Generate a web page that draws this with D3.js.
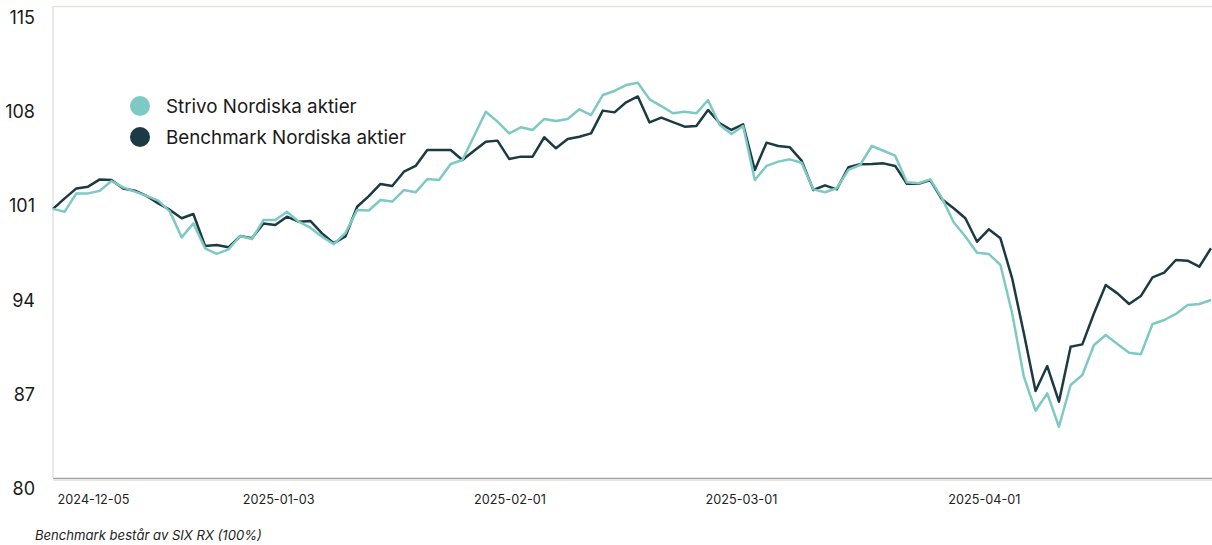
<!DOCTYPE html>
<html>
<head>
<meta charset="utf-8">
<script src="https://cdn.jsdelivr.net/npm/d3@7"></script>
<style>
  body { margin: 0; background: #fff; }
  svg { display: block; }
</style>
</head>
<body>
<svg id="chart"></svg>
<script>
// series values (indexed, start = 100), one per trading day
const strivo = [
  100.0, 99.79, 101.15, 101.15, 101.35, 102.07, 101.60, 101.28, 100.96, 100.61,
  99.79, 97.88, 98.92, 97.07, 96.65, 96.99, 97.98, 97.76, 99.17, 99.17,
  99.79, 99.05, 98.60, 97.93, 97.38, 98.20, 99.91, 99.88, 100.66, 100.54,
  101.40, 101.23, 102.22, 102.14, 103.33, 103.63, 105.41, 107.22, 106.48, 105.61,
  106.06, 105.86, 106.68, 106.53, 106.68, 107.40, 106.97, 108.46, 108.76, 109.20,
  109.37, 108.14, 107.64, 107.10, 107.22, 107.10, 108.09, 106.23, 105.56, 106.16,
  102.14, 103.19, 103.51, 103.68, 103.43, 101.45, 101.23, 101.53, 102.89, 103.26,
  104.67, 104.32, 103.95, 101.97, 101.90, 102.19, 100.80, 99.00, 97.95, 96.74,
  96.65, 95.83, 92.24, 87.53, 85.00, 86.29, 83.81, 86.91, 87.65, 89.88,
  90.63, 89.96, 89.31, 89.19, 91.44, 91.74, 92.19, 92.85, 92.93, 93.23
];
const benchmark = [
  100.0, 100.78, 101.52, 101.65, 102.19, 102.14, 101.52, 101.35, 100.96, 100.41,
  99.92, 99.30, 99.62, 97.24, 97.31, 97.14, 97.98, 97.81, 98.92, 98.80,
  99.42, 99.05, 99.10, 98.18, 97.45, 97.95, 100.16, 100.95, 101.85, 101.70,
  102.76, 103.19, 104.37, 104.37, 104.37, 103.63, 104.32, 104.99, 105.07, 103.71,
  103.88, 103.88, 105.32, 104.50, 105.19, 105.36, 105.61, 107.30, 107.17, 107.92,
  108.35, 106.42, 106.78, 106.45, 106.11, 106.16, 107.35, 106.36, 105.86, 106.28,
  102.89, 104.92, 104.67, 104.57, 103.58, 101.40, 101.75, 101.45, 103.09, 103.31,
  103.33, 103.38, 103.19, 101.87, 101.86, 102.14, 100.71, 100.04, 99.30, 97.56,
  98.48, 97.81, 94.84, 90.75, 86.46, 88.32, 85.67, 89.76, 89.93, 92.24,
  94.34, 93.72, 92.93, 93.52, 94.91, 95.26, 96.20, 96.15, 95.70, 97.07
];
const seriesNames = ["Strivo Nordiska aktier", "Benchmark Nordiska aktier"];
const seriesColors = ["#7ec9c4", "#1b3a44"];
const yTicks = [80, 87, 94, 101, 108, 115];
const xTickLabels = ["2024-12-05", "2025-01-03", "2025-02-01", "2025-03-01", "2025-04-01"];
const xTickIndex = [3, 19, 39, 59, 80];
const footnote = "Benchmark består av SIX RX (100%)";

const width = 1212, height = 545;
const plot = { left: 53, right: 1211, top: 7, bottom: 478 };
const font = "Inter, 'Noto Sans', sans-serif";

const svg = d3.select("#chart").attr("width", width).attr("height", height);

const x = d3.scaleLinear()
  .domain([0, strivo.length - 1])
  .range([plot.left, plot.right]);
const xBand = d3.scaleBand()
  .domain(d3.range(strivo.length))
  .range([plot.left, plot.right - 1]);
const y = d3.scaleLinear()
  .domain([80, 115])
  .range([plot.bottom, plot.top]);

function frameLine(x1, y1, x2, y2, color, w){
  return svg.append("line")
    .attr("x1", x1).attr("y1", y1)
    .attr("x2", x2).attr("y2", y2)
    .attr("stroke", color)
    .attr("stroke-width", w);
}

// plot frame
frameLine(plot.left, plot.top - 0.5, width, plot.top - 0.5, "#e6e3de", 1.5);
frameLine(plot.left, plot.top - 1, plot.left, plot.bottom, "#e6e3de", 1.5);
frameLine(plot.left, plot.bottom + 0.5, width, plot.bottom + 0.5, "#a3a3a3", 1.5);
frameLine(plot.left, plot.bottom + 2.5, width, plot.bottom + 2.5, "#e8e5e0", 1);

// y labels
svg.append("g").selectAll("text")
  .data(yTicks)
  .join("text")
  .attr("x", 35)
  .attr("y", d => y(d) + 17)
  .attr("text-anchor", "end")
  .style("font-family", font)
  .style("font-size", "18px")
  .style("fill", "#1a1a1a")
  .text(d => d);

// x labels
svg.append("g").selectAll("text")
  .data(xTickIndex)
  .join("text")
  .attr("x", d => xBand(d) + xBand.bandwidth() / 2)
  .attr("y", 504)
  .attr("text-anchor", "middle")
  .style("font-family", font)
  .style("font-size", "12.7px")
  .style("fill", "#222")
  .text((d, i) => xTickLabels[i]);

function plotLine(data, color){
  return svg.append("path")
    .datum(data)
    .attr("fill", "none")
    .attr("stroke", color)
    .attr("stroke-width", 2.5)
    .attr("stroke-linejoin", "round")
    .attr("d", d3.line()
      .x((d, i) => x(i))
      .y(d => y(d)));
}

plotLine(benchmark, seriesColors[1]);
plotLine(strivo, seriesColors[0]);

// legend
const legend = svg.append("g").attr("transform", "translate(140, 106)");
seriesNames.forEach((name, i) => {
  legend.append("circle")
    .attr("cx", 0).attr("cy", i * 31)
    .attr("r", 10)
    .style("fill", seriesColors[i]);
  legend.append("text")
    .attr("x", 26).attr("y", i * 31 + 6.5)
    .style("font-family", font)
    .style("font-size", "18.8px")
    .style("fill", "#1a1a1a")
    .text(name);
});

// footnote
svg.append("text")
  .attr("x", 35).attr("y", 540)
  .style("font-family", font)
  .style("font-size", "13.1px")
  .style("font-style", "italic")
  .style("fill", "#222")
  .text(footnote);
</script>
</body>
</html>
